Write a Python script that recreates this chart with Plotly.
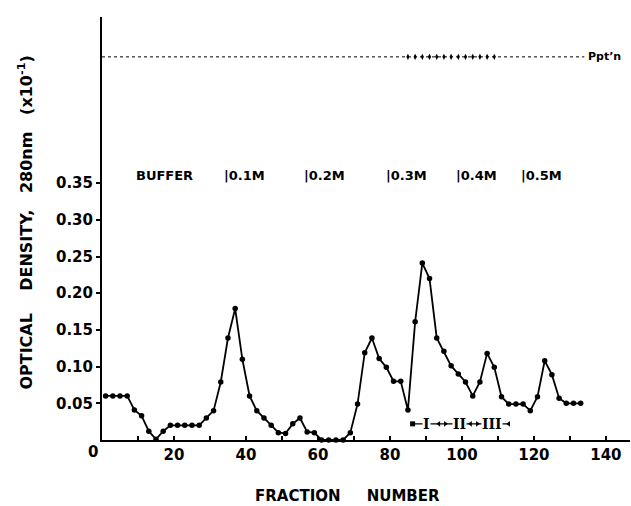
import plotly.graph_objects as go

# ---- data ----
fractions = [1, 3, 5, 7, 9, 11, 13, 15, 17, 19, 21, 23, 25, 27, 29, 31, 33, 35, 37, 39,
             41, 43, 45, 47, 49, 51, 53, 55, 57, 59, 61, 63, 65, 67, 69, 71, 73, 75, 77, 79,
             81, 83, 85, 87, 89, 91, 93, 95, 97, 99, 101, 103, 105, 107, 109, 111, 113, 115,
             117, 119, 121, 123, 125, 127, 129, 131, 133]
od280 = [0.060, 0.060, 0.060, 0.060, 0.041, 0.033, 0.012, 0.001, 0.012, 0.020,
         0.020, 0.020, 0.020, 0.020, 0.030, 0.040, 0.079, 0.139, 0.179, 0.110,
         0.060, 0.040, 0.030, 0.020, 0.010, 0.009, 0.022, 0.030, 0.011, 0.010,
         0.000, 0.000, 0.000, 0.000, 0.010, 0.049, 0.119, 0.139, 0.111, 0.099,
         0.080, 0.080, 0.041, 0.161, 0.241, 0.220, 0.139, 0.121, 0.101, 0.090,
         0.079, 0.060, 0.079, 0.118, 0.099, 0.059, 0.049, 0.049, 0.049, 0.040,
         0.059, 0.108, 0.089, 0.057, 0.050, 0.050, 0.050]

ppt_line_x = [0, 134]
ppt_level = 0.522
ppt_fractions = [85, 87, 89, 91, 93, 95, 97, 99, 101, 103, 105, 107, 109]

step_labels = ["BUFFER", "|0.1M", "|0.2M", "|0.3M", "|0.4M", "|0.5M"]
step_x = [9, 33.3, 55.6, 78.3, 97.8, 115.8]
step_y = 0.361

pool_labels = ["I", "II", "III"]
pool_x = [90.2, 99.4, 108.3]
pool_span = [86, 113.3]
pool_y = 0.022
pool_arrow_x = [86.3, 93.6, 95.4, 102.4, 104.3, 113.0]
pool_arrow_sym = ["square", "triangle-left", "triangle-right", "triangle-left",
                  "triangle-right", "triangle-left"]

x_ticks = [0, 20, 40, 60, 80, 100, 120, 140]
y_ticks = [0.05, 0.10, 0.15, 0.20, 0.25, 0.30, 0.35]
y_tick_text = ["0.05", "0.10", "0.15", "0.20", "0.25", "0.30", "0.35"]

FONT = "DejaVu Sans"

fig = go.Figure()

# precipitation dotted line
fig.add_trace(go.Scatter(
    x=ppt_line_x, y=[ppt_level, ppt_level], mode="lines",
    line=dict(color="black", width=1, dash="dot"), hoverinfo="skip", showlegend=False))
fig.add_trace(go.Scatter(
    x=ppt_fractions, y=[ppt_level] * len(ppt_fractions), mode="markers",
    marker=dict(symbol="diamond-tall", size=4.5, color="black"),
    hoverinfo="skip", showlegend=False))

# elution profile
fig.add_trace(go.Scatter(
    x=fractions, y=od280, mode="lines+markers",
    line=dict(color="black", width=1.8),
    marker=dict(symbol="circle", size=5.5, color="black"),
    cliponaxis=False, showlegend=False))

# pooled fractions bracket
fig.add_trace(go.Scatter(
    x=pool_span, y=[pool_y, pool_y], mode="lines",
    line=dict(color="black", width=1.3), hoverinfo="skip", showlegend=False))
fig.add_trace(go.Scatter(
    x=pool_arrow_x, y=[pool_y] * len(pool_arrow_x), mode="markers",
    marker=dict(symbol=pool_arrow_sym, size=5, color="black"),
    hoverinfo="skip", showlegend=False))
for lab, xv in zip(pool_labels, pool_x):
    fig.add_annotation(x=xv, y=pool_y, text="<b>" + lab + "</b>", showarrow=False,
                       font=dict(family="DejaVu Serif", size=14, color="black"),
                       bgcolor="white", borderpad=0, xanchor="center", yanchor="middle")

# salt step labels
for lab, xv in zip(step_labels, step_x):
    fig.add_annotation(x=xv, y=step_y, text="<b>" + lab + "</b>", showarrow=False,
                       font=dict(family=FONT, size=13, color="black"),
                       xanchor="left", yanchor="middle")

# Ppt'n label
fig.add_annotation(x=134.5, y=ppt_level, text="<b>Ppt\u2019n</b>", showarrow=False,
                   font=dict(family=FONT, size=11, color="black"),
                   xanchor="left", yanchor="middle")

# origin "0"
fig.add_annotation(xref="paper", yref="paper", x=-0.017, y=-0.028, text="<b>0</b>",
                   showarrow=False, font=dict(family=FONT, size=15, color="black"),
                   xanchor="center", yanchor="middle")

# y-axis title
fig.add_annotation(xref="paper", yref="paper", x=-0.145, y=0.515,
                   text="<b>OPTICAL    DENSITY,   280nm   (x10<sup>-1</sup>)</b>",
                   textangle=-90, showarrow=False,
                   font=dict(family=FONT, size=16, color="black"),
                   xanchor="center", yanchor="middle")

# x-axis title
fig.add_annotation(xref="paper", yref="paper", x=(347 - 102) / 528, y=-(496 - 440) / 423,
                   text="<b>FRACTION     NUMBER</b>", showarrow=False,
                   font=dict(family=FONT, size=15, color="black"),
                   xanchor="center", yanchor="middle")

fig.update_layout(
    width=631, height=506,
    margin=dict(l=102, r=1, t=17, b=66),
    paper_bgcolor="white", plot_bgcolor="white",
    font=dict(family=FONT, color="black"),
    xaxis=dict(
        range=[0, 146.7], showgrid=False, zeroline=False,
        showline=True, linecolor="black", linewidth=2,
        tickvals=x_ticks[1:], ticktext=["<b>%d</b>" % v for v in x_ticks[1:]],
        ticks="inside", ticklen=4, tickwidth=1.5, tickcolor="black",
        minor=dict(dtick=10, tick0=0, ticks="inside", ticklen=4, tickwidth=1.5, tickcolor="black"),
        tickfont=dict(family=FONT, size=15, color="black"),
    ),
    yaxis=dict(
        range=[0, 0.5763], showgrid=False, zeroline=False,
        showline=True, linecolor="black", linewidth=2,
        tickvals=y_ticks, ticktext=["<b>%s</b>" % t for t in y_tick_text],
        ticks="outside", ticklen=4, tickwidth=1.5, tickcolor="black",
        tickfont=dict(family=FONT, size=15, color="black"),
        ticklabelstandoff=0,
    ),
)

fig.write_html("out.html")
